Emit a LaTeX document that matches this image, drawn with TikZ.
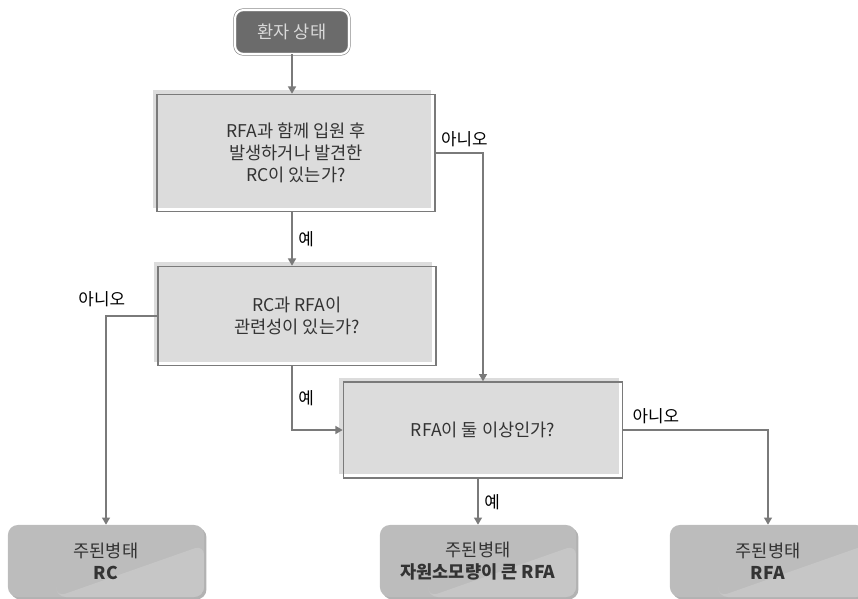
\documentclass[tikz,border=0pt]{standalone}
\usepackage{fontspec}
\setmainfont{Noto Sans CJK KR}
\usetikzlibrary{arrows.meta,shadows}

\definecolor{lnGray}{HTML}{7A7A7A}
\definecolor{boxFill}{HTML}{DCDCDC}
\definecolor{endFill}{HTML}{BCBCBC}
\definecolor{endLight}{HTML}{C6C6C6}
\definecolor{startFill}{HTML}{6B6B6B}
\definecolor{txtGray}{HTML}{333333}

\tikzset{
  arr/.style={draw=lnGray, line width=1pt, -{Triangle[length=1.8mm,width=2mm]}},
  qbox/.style={draw=lnGray, line width=1pt, inner sep=0pt, align=center,
    text=txtGray, font=\fontsize{12.5pt}{15.6pt}\selectfont,
    general shadow={fill=boxFill, shadow xshift=-1mm, shadow yshift=1mm}},
  endbox/.style={fill=endFill, rounded corners=7pt, inner sep=0pt, align=center,
    minimum width=4.9cm, minimum height=1.8cm, text=txtGray,
    font=\fontsize{12.5pt}{15.6pt}\selectfont,
    path picture={\fill[endLight]
      ([xshift=1.2cm]path picture bounding box.south west)
      -- ([yshift=-0.5cm]path picture bounding box.north east)
      |- cycle;},
    drop shadow={shadow xshift=0.6mm, shadow yshift=-0.6mm, fill=gray!60, opacity=1}},
  lbl/.style={text=black, font=\fontsize{12pt}{14pt}\selectfont, inner sep=2pt}
}

\begin{document}
\begin{tikzpicture}[x=0.025cm, y=-0.025cm]
  \useasboundingbox (0,0) rectangle (858,599);

  % Inicio
  \node[fill=startFill, draw=lnGray, double=white, double distance=1.5pt,
        rounded corners=6pt, minimum width=2.85cm, minimum height=1.1cm,
        text=white!85!black, font=\fontsize{12.5pt}{15pt}\selectfont]
        (start) at (292,32) {환자 상태};

  % Preguntas
  \node[qbox, minimum width=6.95cm, minimum height=2.93cm] (q1) at (296,153)
    {RFA과 함께 입원 후\\발생하거나 발견한\\RC이 있는가?};
  \node[qbox, minimum width=6.95cm, minimum height=2.48cm] (q2) at (297,316)
    {RC과 RFA이\\관련성이 있는가?};
  \node[qbox, minimum width=6.98cm, minimum height=2.4cm] (q3) at (483,430)
    {RFA이 둘 이상인가?};

  % Resultados
  \node[endbox] (resRC) at (106,561) {주된병태\\\textbf{RC}};
  \node[endbox] (resBig) at (478,561) {주된병태\\\textbf{자원소모량이 큰 RFA}};
  \node[endbox] (resRFA) at (768,561) {주된병태\\\textbf{RFA}};

  % Flechas
  \draw[arr] (start) -- (start |- q1.north);
  \draw[arr] (start |- q1.south) -- node[lbl, right, xshift=2pt] {예} (start |- q2.north);
  \draw[arr] (q1.east) -| node[lbl, pos=0.02, anchor=south west, yshift=2pt] {아니오} (q3.north);
  \draw[arr] (q2.west) -| node[lbl, pos=0.5, above, xshift=-3pt, yshift=4pt] {아니오} (resRC.north);
  \draw[arr] (start |- q2.south) |- node[lbl, pos=0.25, right, xshift=2pt] {예} (q3.west);
  \draw[arr] (q3.south -| resBig.north) -- node[lbl, right, xshift=2pt] {예} (resBig.north);
  \draw[arr] (q3.east) -| node[lbl, pos=0.02, anchor=south west, yshift=2pt] {아니오} (resRFA.north);
\end{tikzpicture}
\end{document}
